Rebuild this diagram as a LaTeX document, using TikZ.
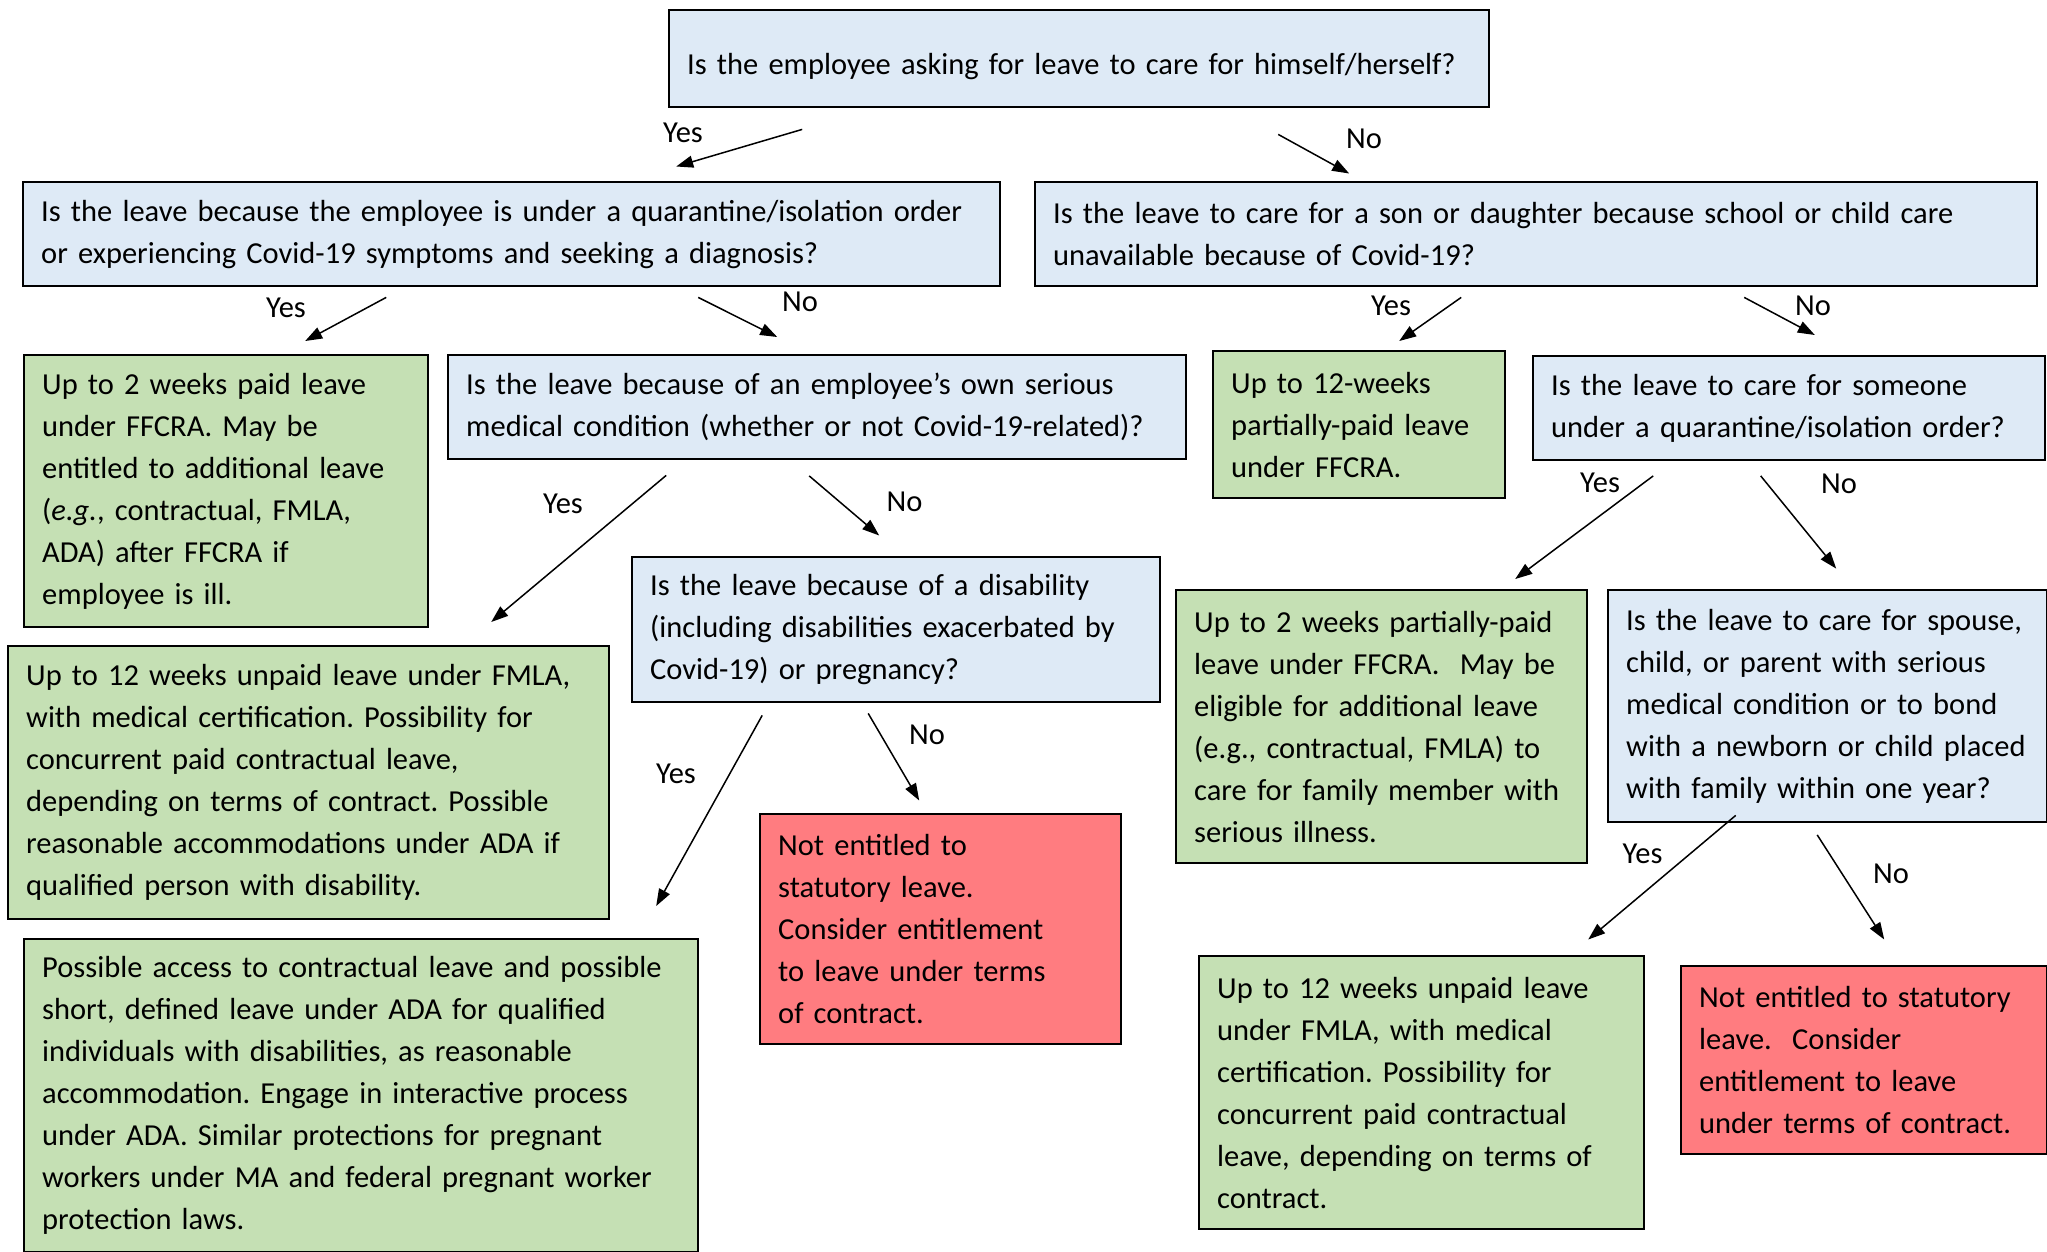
\documentclass[tikz,border=0pt]{standalone}
\usepackage{fontspec}
\setmainfont{Carlito}
\usetikzlibrary{arrows.meta}
\definecolor{qblue}{RGB}{222,234,246}
\definecolor{leavegreen}{RGB}{197,224,180}
\definecolor{noleavered}{RGB}{255,124,128}
\frenchspacing
\begin{document}
\begin{tikzpicture}[x=1pt,y=-1pt,
  box/.style={draw=black, line width=2.4pt, align=left, anchor=north west, inner xsep=18pt, inner ysep=0pt, font=\fontsize{30.5}{42}\selectfont},
  qbox/.style={box, fill=qblue},
  gbox/.style={box, fill=leavegreen},
  rbox/.style={box, fill=noleavered},
  lbl/.style={font=\fontsize{30.5}{42}\selectfont, inner sep=0pt},
  arr/.style={line width=1.5pt, -{Triangle[length=17pt,width=12pt]}}]
\useasboundingbox (0,0) rectangle (2047,1251);
\node[qbox, text width=784pt, minimum height=97pt] (self) at (668,9) {\rule{0pt}{37pt}Is the employee asking for leave to care for himself/herself?};
\node[qbox, text width=941pt, minimum height=104pt] (quar) at (22,181) {Is the leave because the employee is under a quarantine/isolation order\\ or experiencing Covid-19 symptoms and seeking a diagnosis?};
\node[qbox, text width=966pt, minimum height=104pt] (school) at (1034,181) {Is the leave to care for a son or daughter because school or child care\\ unavailable because of Covid-19?};
\node[gbox, text width=368pt, minimum height=272pt] (paid) at (23,354) {Up to 2 weeks paid leave\\ under FFCRA. May be\\ entitled to additional leave\\ (\emph{e.g.}, contractual, FMLA,\\ ADA) after FFCRA if\\ employee is ill.};
\node[qbox, text width=702pt, minimum height=104pt] (own) at (447,354) {Is the leave because of an employee’s own serious\\ medical condition (whether or not Covid-19-related)?};
\node[gbox, text width=256pt, minimum height=147pt] (partial) at (1212,350) {Up to 12-weeks\\ partially-paid leave\\ under FFCRA.};
\node[qbox, text width=476pt, minimum height=104pt] (other) at (1532,355) {Is the leave to care for someone\\ under a quarantine/isolation order?};
\node[qbox, text width=492pt, minimum height=145pt] (disab) at (631,556) {Is the leave because of a disability\\ (including disabilities exacerbated by\\ Covid-19) or pregnancy?};
\node[gbox, text width=565pt, minimum height=273pt] (fmla) at (7,645) {Up to 12 weeks unpaid leave under FMLA,\\ with medical certification. Possibility for\\ concurrent paid contractual leave,\\ depending on terms of contract. Possible\\ reasonable accommodations under ADA if\\ qualified person with disability.};
\node[gbox, text width=638pt, minimum height=313pt] (ada) at (23,938) {Possible access to contractual leave and possible\\ short, defined leave under ADA for qualified\\ individuals with disabilities, as reasonable\\ accommodation. Engage in interactive process\\ under ADA. Similar protections for pregnant\\ workers under MA and federal pregnant worker\\ protection laws.};
\node[rbox, text width=325pt, minimum height=230pt] (none) at (759,813) {Not entitled to\\ statutory leave.\\ Consider entitlement\\ to leave under terms\\ of contract.};
\node[gbox, text width=375pt, minimum height=273pt] (family) at (1175,589) {Up to 2 weeks partially-paid\\ leave under FFCRA.~ May be\\ eligible for additional leave\\ (e.g., contractual, FMLA) to\\ care for family member with\\ serious illness.};
\node[qbox, text width=403pt, minimum height=232pt] (spouse) at (1607,589) {Is the leave to care for spouse,\\ child, or parent with serious\\ medical condition or to bond\\ with a newborn or child placed\\ with family within one year?};
\node[gbox, text width=409pt, minimum height=273pt] (fmlafam) at (1198,955) {Up to 12 weeks unpaid leave\\ under FMLA, with medical\\ certification. Possibility for\\ concurrent paid contractual\\ leave, depending on terms of\\ contract.};
\node[rbox, text width=330pt, minimum height=188pt] (nonefam) at (1680,965) {Not entitled to statutory\\ leave.~ Consider\\ entitlement to leave\\ under terms of contract.};
\draw[arr] ([shift={(-277,21)}]self.south) -- ([shift={(164.5,-14.5)}]quar.north);
\draw[arr] ([shift={(199,26)}]self.south) -- ([shift={(-187,-7.5)}]school.north);
\draw[arr] ([shift={(-125.5,10)}]quar.south) -- ([shift={(79,-13)}]paid.north);
\draw[arr] ([shift={(186.5,10)}]quar.south) -- ([shift={(-40,-17)}]own.north);
\draw[arr] ([shift={(-75,10)}]school.south) -- ([shift={(40,-9)}]partial.north);
\draw[arr] ([shift={(208,10)}]school.south) -- ([shift={(25.6,-20)}]other.north);
\draw[arr] ([shift={(-151,15)}]own.south) -- ([shift={(182.5,-23)}]fmla.north);
\draw[arr] ([shift={(-8,15.5)}]own.south) -- ([shift={(-17,-20.5)}]disab.north);
\draw[arr] ([shift={(-136,14.5)}]other.south) -- ([shift={(133.5,-10)}]family.north);
\draw[arr] ([shift={(-28.5,14.5)}]other.south) -- ([shift={(8.5,-20.4)}]spouse.north);
\draw[arr] ([shift={(-134,12)}]disab.south) -- ([shift={(295,-32)}]ada.north);
\draw[arr] ([shift={(-28,10)}]disab.south) -- ([shift={(-21.5,-12.5)}]none.north);
\draw[arr] ([shift={(-92,-8)}]spouse.south) -- ([shift={(166.5,-15.5)}]fmlafam.north);
\draw[arr] ([shift={(-10.5,11.5)}]spouse.south) -- ([shift={(20,-25.5)}]nonefam.north);
\node[lbl] (yself) at (683,133) {Yes};
\node[lbl] (nself) at (1364,139) {No};
\node[lbl] (yquar) at (286,308) {Yes};
\node[lbl] (nquar) at (800,302) {No};
\node[lbl] (yschool) at (1391,306) {Yes};
\node[lbl] (nschool) at (1813,306) {No};
\node[lbl] (yown) at (563,504) {Yes};
\node[lbl] (nown) at (904.5,502) {No};
\node[lbl] (yother) at (1600,483) {Yes};
\node[lbl] (nother) at (1839,484) {No};
\node[lbl] (ydisab) at (676,773.5) {Yes};
\node[lbl] (ndisab) at (927,735) {No};
\node[lbl] (yspouse) at (1642.5,854) {Yes};
\node[lbl] (nspouse) at (1891,874) {No};
\end{tikzpicture}
\end{document}
